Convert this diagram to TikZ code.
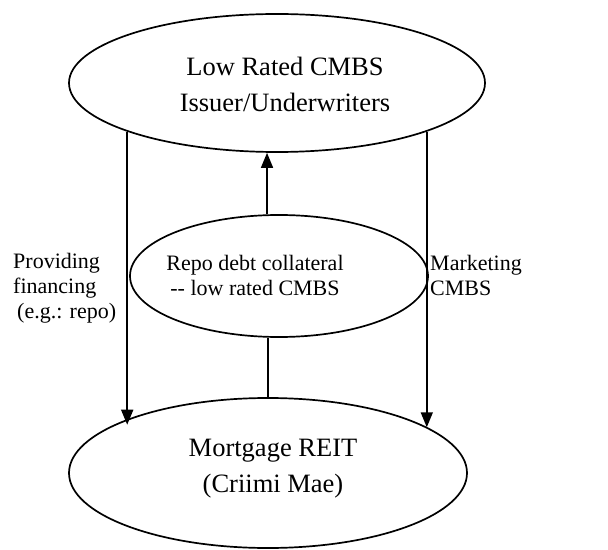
\documentclass[tikz,border=0pt]{standalone}
\usepackage{fontspec}
\setmainfont{Liberation Serif}
\usetikzlibrary{shapes.geometric,arrows.meta}
\begin{document}
\begin{tikzpicture}[x=1bp,y=-1bp,
  oval/.style={ellipse,draw,line width=1.7bp,inner sep=0pt},
  bigtxt/.style={align=center,font=\fontsize{26.5bp}{36bp}\selectfont,inner sep=0pt},
  smalltxt/.style={font=\fontsize{22bp}{25bp}\selectfont,inner sep=0pt},
  arr/.style={line width=1.6bp,-{Triangle[length=15bp,width=12bp]}},
  plain/.style={line width=1.6bp}]
\useasboundingbox (0,0) rectangle (608,550);
\node[oval,minimum width=416bp,minimum height=138bp] (top) at (277,83) {};
\node[oval,minimum width=298bp,minimum height=122bp] (mid) at (279,276) {};
\node[oval,minimum width=398bp,minimum height=150bp] (bot) at (268,473) {};
\node[bigtxt] (toptext) at (285,84) {Low Rated CMBS\\Issuer/Underwriters};
\node[smalltxt,align=center] (midtext) at (255,275) {Repo debt collateral\\-{}- low rated CMBS};
\node[bigtxt] (bottext) at (273,469) {Mortgage REIT\\(Criimi Mae)};
\node[smalltxt,align=left,anchor=west] (leftlab) at (13,288) {Providing\\financing\\\hspace*{4bp}(e.g.: repo)};
\node[smalltxt,align=left,anchor=west] (rightlab) at (430,275) {Marketing\\CMBS};
\draw[arr,shorten >=-7bp] (top.198.15) -- (top.198.15 |- bot.158.8);
\draw[arr] (top.342.1) -- (top.342.1 |- bot.16.1);
\draw[arr] (mid.101.2) -- (mid.101.2 |- top.south);
\draw[plain] (bot.north) -- (bot.north |- mid.south);
\end{tikzpicture}
\end{document}
